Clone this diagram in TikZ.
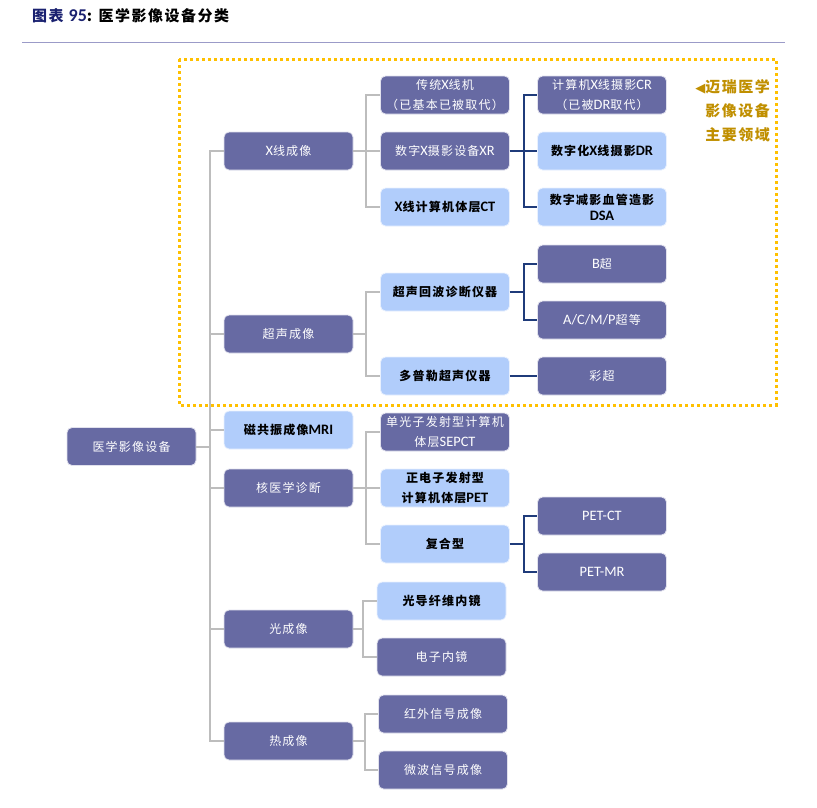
\documentclass[tikz,border=0pt]{standalone}
\usepackage{fontspec}
\setmainfont{Noto Sans CJK SC}[LetterSpace=10]
\newfontfamily\symfont{DejaVu Sans}
\newfontfamily\latfont{Carlito}[Scale=1.2, BoldFont=Carlito Bold]
\newcommand{\lat}[1]{{\latfont #1}}
\usepackage{tikz}
\usetikzlibrary{positioning}
\usepackage{xcolor}

\definecolor{boxdark}{HTML}{676AA3}
\definecolor{boxlight}{HTML}{B1CDFB}
\definecolor{linegray}{HTML}{BDBDBD}
\definecolor{linenavy}{HTML}{1F3B7A}
\definecolor{dotorange}{HTML}{FFC000}
\definecolor{labelgold}{HTML}{C08F00}
\definecolor{titlenavy}{HTML}{1A2170}
\definecolor{rulecol}{HTML}{9B9BC8}

\begin{document}
\begin{tikzpicture}[
  x=1pt, y=-1pt,
  darkbox/.style={draw=white!80!boxdark, line width=0.8pt, fill=boxdark, text=white,
    rounded corners=5pt, minimum width=129pt, minimum height=38pt, inner sep=1pt,
    align=center, font=\fontsize{12}{20}\selectfont},
  lightbox/.style={darkbox, draw=white!70!boxlight, fill=boxlight, text=black,
    font=\bfseries\fontsize{12}{20}\selectfont},
  tree/.style={draw=linegray, line width=2pt},
  leaf/.style={draw=linenavy, line width=1.8pt}]
  \useasboundingbox (0,0) rectangle (817,807);

  % title and rule
  \node[anchor=west, inner sep=0pt, font=\bfseries\fontsize{15}{17}\selectfont] (title) at (32,16)
    {\textcolor{titlenavy}{图表\ \lat{95}}: 医学影像设备分类};
  \draw[rulecol, line width=1pt] (22,42) -- (785,42);

  % main field of the company
  \draw[dotorange, line width=3pt, dash pattern=on 3pt off 3pt] (179,59) rectangle (776,405);
  \node[anchor=north east, align=right, inner sep=0pt, text=labelgold,
    font=\bfseries\fontsize{15}{24}\selectfont] (field) at (770,79)
    {{\symfont\fontsize{13}{13}\selectfont ◀}迈瑞医学\\影像设备\\主要领域};

  % root
  \node[darkbox] (root) at (131.5,446.5) {医学影像设备};

  % first level
  \node[darkbox]  (xray)  at (288.5,151) {\lat{X}线成像};
  \node[darkbox]  (us)    at (288.5,334) {超声成像};
  \node[lightbox] (mri)   at (288.5,430) {磁共振成像\lat{MRI}};
  \node[darkbox]  (nuc)   at (288.5,488) {核医学诊断};
  \node[darkbox]  (opt)   at (288.5,629) {光成像};
  \node[darkbox]  (therm) at (288.5,741) {热成像};

  % second level
  \node[darkbox]  (film)  at (445,95)  {传统\lat{X}线机\\（已基本已被取代）};
  \node[darkbox]  (xr)    at (445,151) {数字\lat{X}摄影设备\lat{XR}};
  \node[lightbox] (ct)    at (445,207) {\lat{X}线计算机体层\lat{CT}};
  \node[lightbox] (echo)  at (445,292) {超声回波诊断仪器};
  \node[lightbox] (dopp)  at (445,376) {多普勒超声仪器};
  \node[darkbox]  (spect) at (445,432) {单光子发射型计算机\\体层\lat{SEPCT}};
  \node[lightbox] (pet)   at (445,488) {正电子发射型\\计算机体层\lat{PET}};
  \node[lightbox] (combo) at (445,544) {复合型};
  \node[lightbox] (fiber) at (441.5,601) {光导纤维内镜};
  \node[darkbox]  (elec)  at (441.5,657) {电子内镜};
  \node[darkbox]  (ir)    at (443,714) {红外信号成像};
  \node[darkbox]  (micro) at (443,770) {微波信号成像};

  % third level
  \node[darkbox]  (cr)    at (602,95)  {计算机\lat{X}线摄影\lat{CR}\\（已被\lat{DR}取代）};
  \node[lightbox] (dr)    at (602,151) {数字化\lat{X}线摄影\lat{DR}};
  \node[lightbox] (dsa)   at (602,207) {数字减影血管造影\\[-4pt]\lat{DSA}};
  \node[darkbox]  (bmode) at (602,264) {\lat{B}超};
  \node[darkbox]  (acmp)  at (602,320) {\lat{A/C/M/P}超等};
  \node[darkbox]  (color) at (602,376) {彩超};
  \node[darkbox]  (petct) at (602,516) {\lat{PET-CT}};
  \node[darkbox]  (petmr) at (602,572) {\lat{PET-MR}};

  % trunk
  \coordinate (trunk) at (210,446.5);
  \draw[tree] (root.east) -- (trunk);
  \foreach \n in {xray,us,mri,nuc,opt,therm}
    \draw[tree] (trunk) |- (\n.west);

  % first to second level
  \foreach \n in {film,xr,ct}
    \draw[tree] (xray.east) -- ++(13,0) |- (\n.west);
  \foreach \n in {echo,dopp}
    \draw[tree] (us.east) -- ++(13,0) |- (\n.west);
  \foreach \n in {spect,pet,combo}
    \draw[tree] (nuc.east) -- ++(13,0) |- (\n.west);
  \foreach \n in {fiber,elec}
    \draw[tree] (opt.east) -- ++(10,0) |- (\n.west);
  \foreach \n in {ir,micro}
    \draw[tree] (therm.east) -- ++(12,0) |- (\n.west);

  % second to third level
  \foreach \n in {cr,dr,dsa}
    \draw[leaf] (xr.east) -- ++(14,0) |- (\n.west);
  \foreach \n in {bmode,acmp}
    \draw[leaf] (echo.east) -- ++(14,0) |- (\n.west);
  \draw[leaf] (dopp) -- (color);
  \foreach \n in {petct,petmr}
    \draw[leaf] (combo.east) -- ++(14,0) |- (\n.west);
\end{tikzpicture}
\end{document}
